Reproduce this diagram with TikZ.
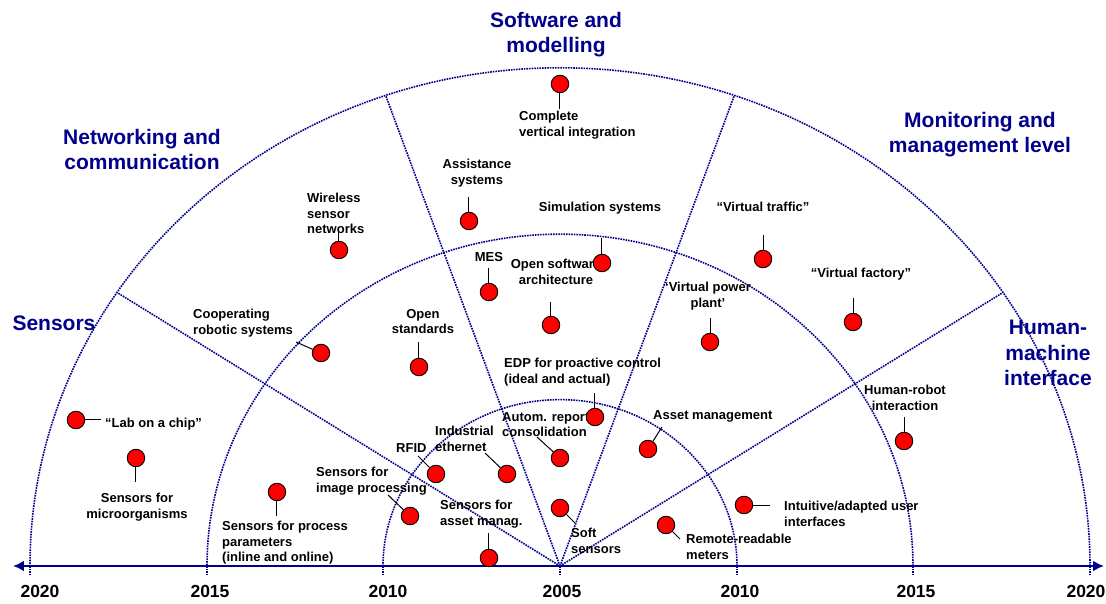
\documentclass[tikz,border=0pt]{standalone}
\usepackage{fontspec}
\setmainfont{Liberation Sans}
\usepackage{tikz}
\usetikzlibrary{arrows.meta}
\definecolor{roadblue}{RGB}{0,0,140}

\begin{document}
\begin{tikzpicture}[x=1pt, y=1pt]
	% Define styles
	\tikzset{
		dot/.style={circle, draw, fill=red, line width=0.9pt, minimum size=17.5pt, inner sep=0pt},
		stem/.style={draw, line width=1pt},
		lbl/.style={font=\fontsize{13}{15.5}\selectfont\bfseries, inner sep=0pt},
		area/.style={font=\fontsize{21}{25.5}\selectfont\bfseries, text=roadblue, inner sep=0pt, align=center, anchor=north},
		year/.style={font=\fontsize{17.5}{20}\selectfont\bfseries, inner sep=0pt},
		arcline/.style={draw=roadblue, densely dotted, line width=1.6pt},
		timeline/.style={draw=roadblue, line width=2.5pt, {Latex[length=11pt,width=11pt]}-{Latex[length=11pt,width=11pt]}}
	}
	\useasboundingbox (-560,-37) rectangle (546,566);
	
	% Rings and sectors
	\begin{scope}[yscale=0.94]
		\foreach \r in {177,353,530}
			\draw[arcline] (\r,0) arc[start angle=0, end angle=180, radius=\r];
		\foreach \a in {33.3,70.8,109.2,146.7}
			\draw[arcline] (0,0) -- (\a:530);
	\end{scope}
	\foreach \x in {-530,-353,-177,0,177,353,530}
		\draw[arcline] (\x,0) -- (\x,-10);
	
	% Time axis
	\coordinate (tl) at (-547,0);
	\coordinate (tr) at (544,0);
	\draw[timeline] (tl) -- (tr);
	\node[year] (y1) at (-520,-25) {2020};
	\node[year] (y2) at (-350,-25) {2015};
	\node[year] (y3) at (-172,-25) {2010};
	\node[year] (y4) at (2,-25) {2005};
	\node[year] (y5) at (180,-25) {2010};
	\node[year] (y6) at (356,-25) {2015};
	\node[year] (y7) at (526,-25) {2020};
	
	% Areas
	\node[area] (sw) at (-4,554) {Software and\\modelling};
	\node[area] (net) at (-418,437) {Networking and\\communication};
	\node[area] (mon) at (420,454) {Monitoring and\\management level};
	\node[area] (hmi) at (488,246) {Human-\\machine\\interface};
	\node[area] (sens) at (-506,250) {Sensors};
	
	% Labels
	\node[lbl, anchor=north west] (l1) at (-455,148) {“Lab on a chip”};
	\node[lbl, anchor=north, align=center] (l2) at (-423,73) {Sensors for\\microorganisms};
	\node[lbl, anchor=north west, align=left] (l3) at (-338,45) {Sensors for process\\parameters\\(inline and online)};
	\node[lbl, anchor=north west, align=left] (l4) at (-244,99) {Sensors for\\image processing};
	\node[lbl, anchor=north west] (l5) at (-164,123) {RFID};
	\node[lbl, anchor=north west, align=left] (l6) at (-125,140) {Industrial\\ethernet};
	\node[lbl, anchor=north west, align=left] (l7) at (-120,66) {Sensors for\\asset manag.};
	\node[lbl, anchor=north west, align=left] (l8) at (11,38) {Soft\\sensors};
	\node[lbl, anchor=north west, align=left] (l9) at (-58,154) {Autom. report\\consolidation};
	\node[lbl, anchor=north west, align=left] (l10) at (-56,208) {EDP for proactive control\\(ideal and actual)};
	\node[lbl, anchor=north west] (l11) at (93,156) {Asset management};
	\node[lbl, anchor=north west, align=left] (l12) at (126,32) {Remote-readable\\meters};
	\node[lbl, anchor=north west, align=left] (l13) at (224,65) {Intuitive/adapted user\\interfaces};
	\node[lbl, anchor=north, align=center] (l14) at (345,181) {Human-robot\\interaction};
	\node[lbl, anchor=north] (l15) at (301,298) {“Virtual factory”};
	\node[lbl, anchor=north] (l16) at (203,364) {“Virtual traffic”};
	\node[lbl, anchor=north, align=center] (l17) at (148,284) {‘Virtual power\\plant’};
	\node[lbl, anchor=north, align=center] (l18) at (-4,307) {Open software\\architecture};
	\node[lbl, anchor=north] (l19) at (40,364) {Simulation systems};
	\node[lbl, anchor=north] (l20) at (-71,314) {MES};
	\node[lbl, anchor=north, align=center] (l21) at (-83,407) {Assistance\\systems};
	\node[lbl, anchor=north, align=center] (l22) at (-137,257) {Open\\standards};
	\node[lbl, anchor=north west, align=left] (l23) at (-253,373) {Wireless\\sensor\\networks};
	\node[lbl, anchor=north west, align=left] (l24) at (-367,257) {Cooperating\\robotic systems};
	\node[lbl, anchor=north west, align=left] (l25) at (-41,455) {Complete\\vertical integration};
	
	% Dots
	\node[dot] (d1) at (-484,146) {};
	\node[dot] (d2) at (-424,108) {};
	\node[dot] (d3) at (-283,74) {};
	\node[dot] (d4) at (-150,50) {};
	\node[dot] (d5) at (-124,92) {};
	\node[dot] (d6) at (-53,92) {};
	\node[dot] (d7) at (-71,8) {};
	\node[dot] (d8) at (0,58) {};
	\node[dot] (d9) at (0,108) {};
	\node[dot] (d10) at (35,149) {};
	\node[dot] (d11) at (88,117) {};
	\node[dot] (d12) at (106,41) {};
	\node[dot] (d13) at (184,61) {};
	\node[dot] (d14) at (344,125) {};
	\node[dot] (d15) at (293,244) {};
	\node[dot] (d16) at (203,307) {};
	\node[dot] (d17) at (150,224) {};
	\node[dot] (d18) at (-9,241) {};
	\node[dot] (d19) at (42,303) {};
	\node[dot] (d20) at (-71,274) {};
	\node[dot] (d21) at (-91,345) {};
	\node[dot] (d22) at (-141,199) {};
	\node[dot] (d23) at (-221,316) {};
	\node[dot] (d24) at (-239,213) {};
	\node[dot] (d25) at (0,482) {};
	
	% Stem ends
	\coordinate (s1) at (-459,146);
	\coordinate (s2) at (-424,84);
	\coordinate (s3) at (-283,50);
	\coordinate (s4) at (-172,71);
	\coordinate (s5) at (-142,110);
	\coordinate (s6) at (-75,113);
	\coordinate (s7) at (-71,33);
	\coordinate (s8) at (15,43);
	\coordinate (s9) at (-23,129);
	\coordinate (s10) at (35,173);
	\coordinate (s11) at (102,139);
	\coordinate (s12) at (120,27);
	\coordinate (s13) at (210,61);
	\coordinate (s14) at (344,149);
	\coordinate (s15) at (293,268);
	\coordinate (s16) at (203,331);
	\coordinate (s17) at (150,248);
	\coordinate (s18) at (-9,264);
	\coordinate (s19) at (42,328);
	\coordinate (s20) at (-71,298);
	\coordinate (s21) at (-91,369);
	\coordinate (s22) at (-141,224);
	\coordinate (s23) at (-221,334);
	\coordinate (s24) at (-264,224);
	\coordinate (s25) at (0,457);
	
	% Stems
	\foreach \i in {1,...,25}
		\draw[stem] (d\i) -- (s\i);
	
\end{tikzpicture}
\end{document}
